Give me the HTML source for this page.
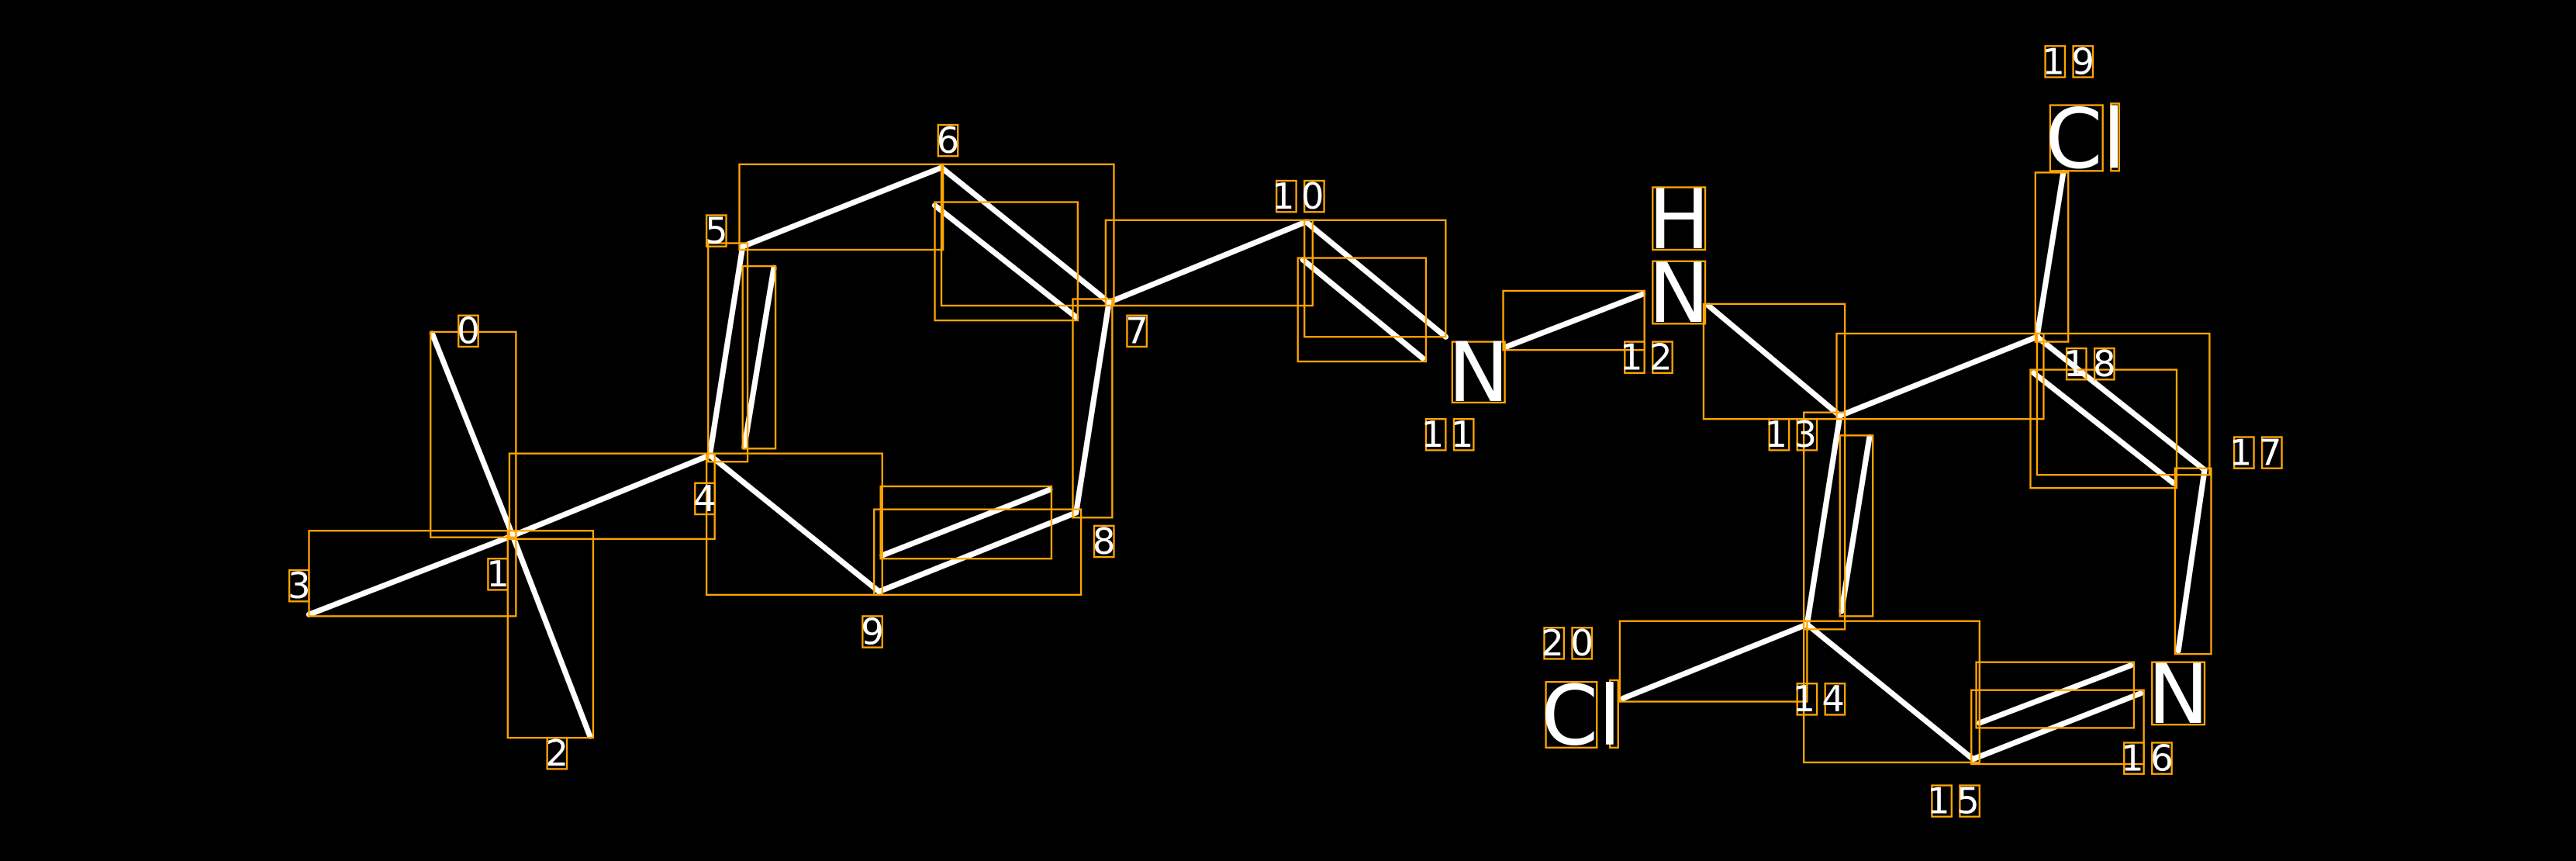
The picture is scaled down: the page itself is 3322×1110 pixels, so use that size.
<!DOCTYPE html>
<html><head><meta charset="utf-8"><style>
html,body{margin:0;padding:0;background:#000;}
svg{display:block;}
text{font-family:"DejaVu Sans","Liberation Sans",sans-serif;fill:#fff;}
</style></head><body>
<svg width="3322" height="1110" viewBox="0 0 1568 524" xmlns="http://www.w3.org/2000/svg">
<rect width="1568" height="524" fill="#000"/>
<g stroke="#fff" stroke-width="3.4" stroke-linecap="round">
<line x1="263" y1="203" x2="312" y2="326"/>
<line x1="312" y1="326" x2="359" y2="448"/>
<line x1="188" y1="374" x2="312" y2="326"/>
<line x1="312" y1="326" x2="432" y2="277"/>
<line x1="432" y1="277" x2="452" y2="150"/>
<line x1="453" y1="272" x2="471" y2="163"/>
<line x1="452" y1="150" x2="573" y2="102"/>
<line x1="573" y1="102" x2="675" y2="184"/>
<line x1="569" y1="125" x2="655" y2="193"/>
<line x1="675" y1="184" x2="655" y2="312"/>
<line x1="655" y1="312" x2="535" y2="360"/>
<line x1="537" y1="338" x2="639" y2="298"/>
<line x1="535" y1="360" x2="432" y2="277"/>
<line x1="675" y1="184" x2="795" y2="135"/>
<line x1="795" y1="135" x2="880" y2="205"/>
<line x1="793" y1="158" x2="866" y2="218"/>
<line x1="917" y1="211" x2="1000" y2="179"/>
<line x1="1040" y1="186" x2="1120" y2="253"/>
<line x1="1120" y1="253" x2="1240" y2="205"/>
<line x1="1240" y1="205" x2="1256" y2="105"/>
<line x1="1240" y1="205" x2="1342" y2="286"/>
<line x1="1238" y1="227" x2="1323" y2="294"/>
<line x1="1342" y1="286" x2="1326" y2="396"/>
<line x1="1303" y1="422" x2="1201" y2="462"/>
<line x1="1205" y1="440" x2="1297" y2="405"/>
<line x1="1201" y1="462" x2="1100" y2="380"/>
<line x1="1100" y1="380" x2="1120" y2="253"/>
<line x1="1121" y1="372" x2="1138" y2="266"/>
<line x1="1100" y1="380" x2="988" y2="425"/>
</g>
<g fill="none" stroke="#FFA500" stroke-width="1.1">
<rect x="262" y="202" width="52" height="125"/>
<rect x="309" y="323" width="52" height="126"/>
<rect x="188" y="323" width="126" height="52"/>
<rect x="310" y="276" width="125" height="52"/>
<rect x="431" y="148" width="24" height="133"/>
<rect x="452" y="162" width="20" height="111"/>
<rect x="450" y="100" width="124" height="52"/>
<rect x="573" y="100" width="105" height="86"/>
<rect x="569" y="123" width="87" height="72"/>
<rect x="653" y="182" width="24" height="133"/>
<rect x="532" y="310" width="126" height="52"/>
<rect x="536" y="296" width="104" height="44"/>
<rect x="430" y="276" width="107" height="86"/>
<rect x="673" y="134" width="126" height="52"/>
<rect x="794" y="134" width="86" height="71"/>
<rect x="790" y="157" width="78" height="63"/>
<rect x="915" y="177" width="86" height="36"/>
<rect x="1037" y="185" width="86" height="70"/>
<rect x="1118" y="203" width="126" height="52"/>
<rect x="1239" y="105" width="20" height="103"/>
<rect x="1240" y="203" width="105" height="86"/>
<rect x="1236" y="225" width="89" height="72"/>
<rect x="1324" y="285" width="22" height="113"/>
<rect x="1200" y="420" width="105" height="45"/>
<rect x="1203" y="403" width="96" height="40"/>
<rect x="1098" y="378" width="107" height="86"/>
<rect x="1098" y="251" width="25" height="132"/>
<rect x="1120" y="265" width="20" height="110"/>
<rect x="986" y="378" width="114" height="49"/>
<rect x="279" y="192" width="12" height="19"/>
<rect x="297" y="340" width="12" height="19"/>
<rect x="333" y="449" width="12" height="19"/>
<rect x="176" y="347" width="12" height="19"/>
<rect x="423" y="294" width="12" height="19"/>
<rect x="430" y="131" width="12" height="19"/>
<rect x="571" y="76" width="12" height="19"/>
<rect x="686" y="192" width="12" height="19"/>
<rect x="666" y="320" width="12" height="19"/>
<rect x="525" y="375" width="12" height="19"/>
<rect x="777" y="110" width="12" height="19"/><rect x="794" y="110" width="12" height="19"/>
<rect x="868" y="255" width="12" height="19"/><rect x="885" y="255" width="12" height="19"/>
<rect x="989" y="208" width="12" height="19"/><rect x="1006" y="208" width="12" height="19"/>
<rect x="1077" y="255" width="12" height="19"/><rect x="1094" y="255" width="12" height="19"/>
<rect x="1094" y="416" width="12" height="19"/><rect x="1111" y="416" width="12" height="19"/>
<rect x="1176" y="478" width="12" height="19"/><rect x="1193" y="478" width="12" height="19"/>
<rect x="1293" y="452" width="12" height="19"/><rect x="1310" y="452" width="12" height="19"/>
<rect x="1360" y="266" width="12" height="19"/><rect x="1377" y="266" width="12" height="19"/>
<rect x="1258" y="212" width="12" height="19"/><rect x="1275" y="212" width="12" height="19"/>
<rect x="1245" y="28" width="12" height="19"/><rect x="1262" y="28" width="12" height="19"/>
<rect x="940" y="382" width="12" height="19"/><rect x="957" y="382" width="12" height="19"/>
<rect x="884" y="208" width="32" height="37"/>
<rect x="1006" y="114" width="32" height="38"/>
<rect x="1006" y="159" width="32" height="38"/>
<rect x="1248" y="64" width="32" height="40"/><rect x="1285" y="63" width="5" height="41"/>
<rect x="941" y="415" width="31" height="40"/><rect x="980" y="414" width="5" height="41"/>
<rect x="1310" y="403" width="32" height="38"/>
</g>
<g font-size="22" text-anchor="middle">
<text x="285" y="209">0</text>
<text x="303" y="357">1</text>
<text x="339" y="466">2</text>
<text x="182" y="364">3</text>
<text x="429" y="311">4</text>
<text x="436" y="148">5</text>
<text x="577" y="93">6</text>
<text x="692" y="209">7</text>
<text x="672" y="337">8</text>
<text x="531" y="392">9</text>
<text x="792" y="127" letter-spacing="4">10</text>
<text x="883" y="272" letter-spacing="4">11</text>
<text x="1004" y="225" letter-spacing="4">12</text>
<text x="1092" y="272" letter-spacing="4">13</text>
<text x="1109" y="433" letter-spacing="4">14</text>
<text x="1191" y="495" letter-spacing="4">15</text>
<text x="1309" y="469" letter-spacing="4">16</text>
<text x="1375" y="283" letter-spacing="4">17</text>
<text x="1274" y="229" letter-spacing="4">18</text>
<text x="1261" y="45" letter-spacing="4">19</text>
<text x="956" y="399" letter-spacing="4">20</text>
</g>
<g font-size="50" text-anchor="middle">
<text x="900" y="244">N</text>
<text x="1022" y="151">H</text>
<text x="1022" y="196">N</text>
<text x="1326" y="440">N</text>
</g>
<g font-size="50" text-anchor="start">
<text x="1245" y="102">Cl</text>
<text x="938" y="453">Cl</text>
</g>
</svg>
</body></html>
